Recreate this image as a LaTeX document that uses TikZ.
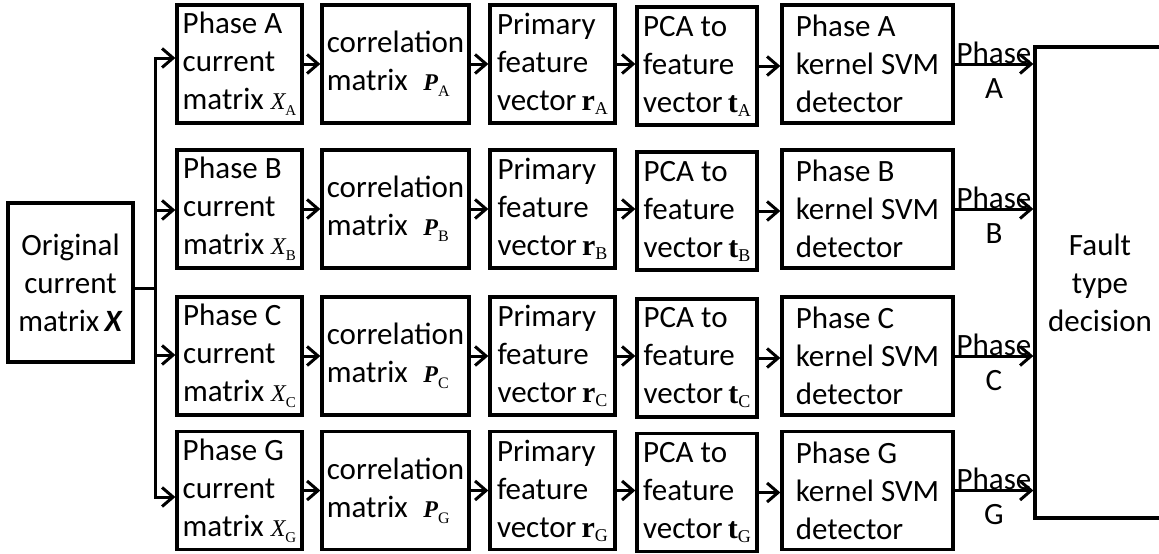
\documentclass[tikz,border=0pt]{standalone}
\usepackage{fontspec}
\setmainfont{Carlito}
\newfontfamily\tnr{Liberation Serif}
\usetikzlibrary{arrows.meta,calc}

% symbols set in a Times-like face
\newcommand\itsym[2]{{\tnr\fontsize{24}{24}\selectfont\itshape #1}\raisebox{-6pt}{\tnr\fontsize{15}{15}\selectfont #2}}
\newcommand\bisym[2]{{\tnr\fontsize{24}{24}\selectfont\bfseries\itshape #1}\raisebox{-6pt}{\tnr\fontsize{16}{16}\selectfont #2}}
\newcommand\bsym[2]{{\tnr\fontsize{30}{30}\selectfont\bfseries #1}\raisebox{-4pt}{\tnr\fontsize{18}{18}\selectfont #2}}

\begin{document}
\begin{tikzpicture}[x=1pt,y=-1pt,
  every node/.style={font=\fontsize{31}{38}\selectfont, inner sep=0pt},
  box/.style={draw, line width=3.3pt, minimum height=118pt, align=left},
  arr/.style={-{Straight Barb[length=11pt,width=19pt]}, line width=3pt}]
\useasboundingbox (0,0) rectangle (1159,554);
\clip (0,0) rectangle (1159,554);

% input block
\node[box, minimum width=125pt, minimum height=159pt, align=center] (orig) at (70.5,282.5)
  {Original\\current\\matrix\,\textbf{\textit{X}}};

% decision block (open on the right)
\node[draw, line width=3.3pt, minimum width=130pt, minimum height=471pt, align=center] (dec) at (1100,282.5)
  {Fault\\type\\decision};

% one processing chain per phase
\foreach \r/\cy/\ty in {A/64/58, B/209/210, C/356/355, G/490.5/497}{
  \node[box, minimum width=125pt] (c1\r) at (239.5,\cy) {Phase \r\\current\\matrix \itsym{X}{\r}};
  \node[box, minimum width=147pt] (c2\r) at (395.5,\cy) {correlation\\matrix\enspace\bisym{P}{\r}};
  \node[box, minimum width=125pt] (c3\r) at (552.5,\cy) {Primary\\feature\\vector\,\bsym{r}{\r}};
  \node[box, minimum width=120pt] (c4\r) at (697,\cy+2) {PCA to\\feature\\vector\,\bsym{t}{\r}};
  \node[box, minimum width=171pt] (c5\r) at (867.5,\cy) {Phase \r\\kernel SVM\\detector};
  \coordinate (t\r) at (155,\ty);
  \draw[arr] (t\r) -- (c1\r.west |- t\r);
  \draw[arr] (c1\r.east) -- (c1\r.east -| c2\r.west);
  \draw[arr] (c2\r.east) -- (c2\r.east -| c3\r.west);
  \draw[arr] (c3\r.east) -- (c3\r.east -| c4\r.west);
  \draw[arr] (c4\r.east) -- (c4\r.east -| c5\r.west);
  \draw[arr] (c5\r.east) -- (c5\r.east -| dec.west)
    node[midway, anchor=base, yshift=1pt] {Phase}
    node[midway, anchor=base, yshift=-34pt] {\r};
}

% distribution trunk
\coordinate (split) at (155,288);
\draw[line width=3pt] (orig.east |- split) -- (split);
\draw[line width=3pt, line cap=rect] (tA) -- (tG);
\end{tikzpicture}
\end{document}
